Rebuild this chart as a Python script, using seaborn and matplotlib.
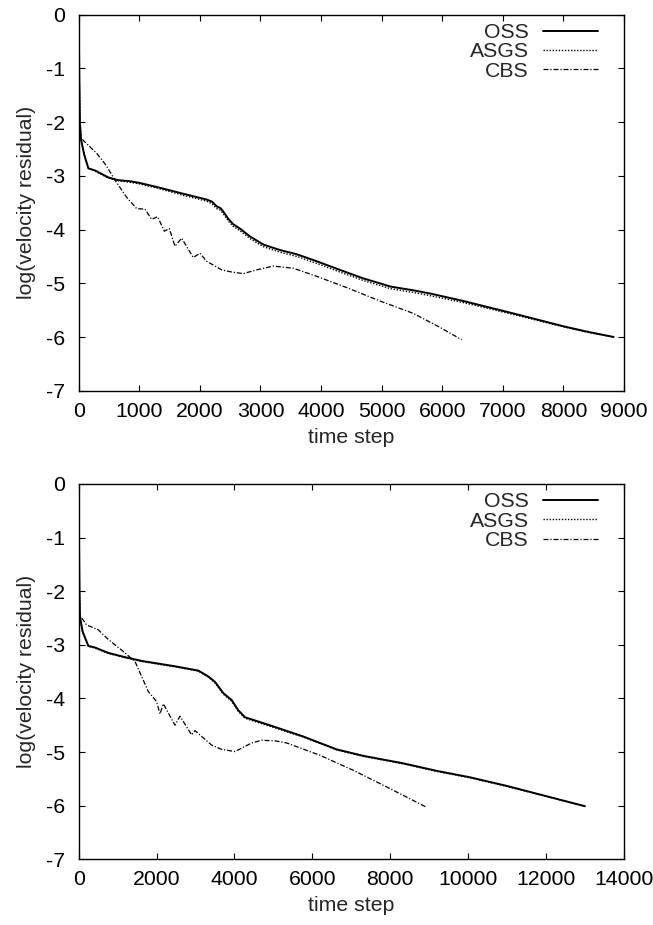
import matplotlib
matplotlib.use("Agg")
import matplotlib.pyplot as plt
import seaborn as sns

# ---------------- data ----------------
# top panel
oss1_x = [0, 10, 20, 40, 90, 160, 270, 490, 650, 850, 1000, 1300, 1750, 2110, 2200, 2280, 2340, 2390, 2470,
          2550, 2660, 2830, 3050, 3320, 3600, 3930, 4310, 4700, 5000, 5140, 5520, 5800, 6350, 7170, 8000,
          8390, 8830]
oss1_y = [0, -1.2, -2.0, -2.33, -2.6, -2.86, -2.9, -3.03, -3.08, -3.10, -3.13, -3.21, -3.34, -3.44, -3.48,
          -3.57, -3.60, -3.67, -3.80, -3.90, -3.98, -4.13, -4.28, -4.38, -4.46, -4.59, -4.75, -4.91, -5.01,
          -5.06, -5.13, -5.19, -5.33, -5.56, -5.80, -5.90, -6.0]
asgs1_x = [0, 10, 20, 40, 90, 160, 270, 490, 650, 850, 1000, 1300, 1750, 2110, 2200, 2280, 2340, 2390, 2470,
           2550, 2660, 2830, 3050, 3320, 3600, 3930, 4310, 4700, 5000, 5140, 5520, 5800, 6350, 7170, 8000,
           8390, 8830]
asgs1_y = [0, -1.2, -2.0, -2.33, -2.6, -2.86, -2.91, -3.04, -3.09, -3.12, -3.15, -3.23, -3.37, -3.47, -3.52,
           -3.61, -3.64, -3.71, -3.84, -3.94, -4.02, -4.17, -4.32, -4.42, -4.50, -4.63, -4.79, -4.95, -5.05,
           -5.10, -5.17, -5.23, -5.36, -5.58, -5.81, -5.91, -6.0]
cbs1_x = [60, 93, 297, 450, 599, 792, 957, 1094, 1205, 1303, 1413, 1496, 1589, 1700, 1891, 2002, 2112, 2360,
          2525, 2717, 2937, 3212, 3542, 3928, 4423, 4973, 5523, 5963, 6321]
cbs1_y = [-2.32, -2.36, -2.58, -2.80, -3.08, -3.40, -3.61, -3.62, -3.81, -3.76, -4.03, -3.98, -4.31, -4.16,
          -4.52, -4.44, -4.59, -4.75, -4.79, -4.82, -4.75, -4.68, -4.72, -4.87, -5.08, -5.33, -5.56, -5.82, -6.05]

# bottom panel
oss2_x = [0, 10, 20, 33, 100, 247, 418, 760, 1189, 1617, 2472, 3071, 3328, 3499, 3713, 3928, 4098, 4270,
          4611, 4911, 5767, 6624, 7307, 8334, 9191, 10046, 10988, 12999]
oss2_y = [0, -1.2, -2.0, -2.48, -2.75, -3.02, -3.05, -3.15, -3.23, -3.30, -3.40, -3.48, -3.59, -3.69, -3.90,
          -4.03, -4.22, -4.35, -4.43, -4.50, -4.71, -4.95, -5.07, -5.21, -5.35, -5.47, -5.63, -6.01]
asgs2_x = [0, 10, 20, 33, 100, 247, 418, 760, 1189, 1617, 2472, 3071, 3328, 3499, 3713, 3928, 4098, 4270,
           4611, 4911, 5767, 6624, 7307, 8334, 9191, 10046, 10988, 12999]
asgs2_y = [0, -1.2, -2.0, -2.48, -2.76, -3.03, -3.06, -3.16, -3.24, -3.31, -3.41, -3.49, -3.60, -3.71, -3.92,
           -4.05, -4.24, -4.37, -4.45, -4.52, -4.72, -4.96, -5.08, -5.22, -5.36, -5.48, -5.64, -6.01]
cbs2_x = [77, 205, 504, 760, 1104, 1446, 1617, 1787, 2002, 2087, 2173, 2472, 2601, 2900, 2986, 3414, 3671,
          4013, 4441, 4698, 5040, 5340, 6195, 7051, 7908, 8934]
cbs2_y = [-2.50, -2.63, -2.72, -2.90, -3.10, -3.31, -3.59, -3.87, -4.06, -4.29, -4.10, -4.50, -4.33, -4.68,
          -4.60, -4.87, -4.95, -4.99, -4.83, -4.78, -4.79, -4.83, -5.06, -5.34, -5.65, -6.03]

labels = ["OSS", "ASGS", "CBS"]
xticks_top = [0, 1000, 2000, 3000, 4000, 5000, 6000, 7000, 8000, 9000]
xticks_bot = [0, 2000, 4000, 6000, 8000, 10000, 12000, 14000]
yticks = [0, -1, -2, -3, -4, -5, -6, -7]
xlabel = "time step"
ylabel = "log(velocity residual)"

# ---------------- style ----------------
sns.set_theme(style="ticks")
plt.rcParams["font.family"] = ["Liberation Sans", "DejaVu Sans"]
plt.rcParams["axes.unicode_minus"] = False

FS = 15.3
fig = plt.figure(figsize=(6.53, 9.25), dpi=100)
ax1 = fig.add_axes([0.1205, 0.5776, 0.835, 0.4065])
ax2 = fig.add_axes([0.1205, 0.0710, 0.835, 0.4058])

styles = [dict(linestyle="-", linewidth=1.4),
          dict(linestyle=(0, (1.0, 1.2)), linewidth=1.0),
          dict(linestyle=(0, (4.0, 1.5, 1.0, 1.5)), linewidth=0.9)]


def panel(ax, series, xmax, xticks):
    for (xs, ys), lab, st in zip(series, labels, styles):
        sns.lineplot(x=xs, y=ys, ax=ax, color="black", label=lab, sort=False,
                     estimator=None, **st)
    ax.set_xlim(0, xmax)
    ax.set_ylim(-7, 0)
    ax.set_xticks(xticks)
    ax.set_xticklabels([str(t) for t in xticks])
    ax.set_yticks(yticks)
    ax.set_yticklabels([str(t) for t in yticks])
    for sp in ax.spines.values():
        sp.set_visible(True)
        sp.set_color("black")
        sp.set_linewidth(1.0)
    ax.tick_params(axis="both", which="major", direction="in", length=4.5, width=0.8,
                   top=True, right=True, labelsize=FS, colors="black")
    ax.tick_params(axis="x", pad=8.0)
    ax.tick_params(axis="y", pad=10.0)
    ax.set_xlabel(xlabel, fontsize=FS, labelpad=5)
    ax.set_ylabel(ylabel, fontsize=FS, labelpad=7)
    ax.legend(loc="upper right", bbox_to_anchor=(0.952, 0.978), frameon=False,
              markerfirst=False, handlelength=2.6, handletextpad=0.65,
              labelspacing=0.02, borderaxespad=0, borderpad=0, fontsize=FS)


panel(ax1, [(oss1_x, oss1_y), (asgs1_x, asgs1_y), (cbs1_x, cbs1_y)], 9000, xticks_top)
panel(ax2, [(oss2_x, oss2_y), (asgs2_x, asgs2_y), (cbs2_x, cbs2_y)], 14000, xticks_bot)

fig.savefig("out.png", dpi=100)
